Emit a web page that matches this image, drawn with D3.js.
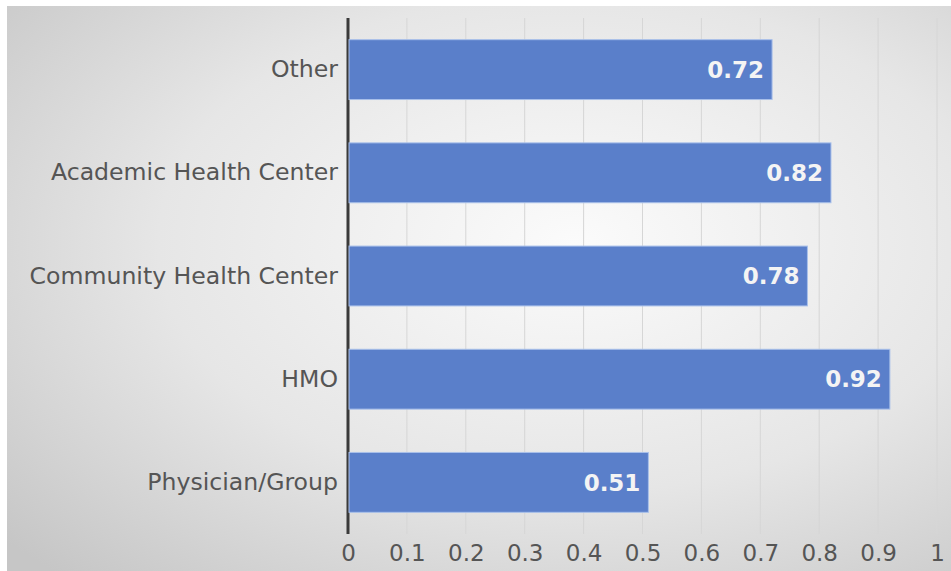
<!DOCTYPE html>
<html>
<head>
<meta charset="utf-8">
<script src="https://cdn.jsdelivr.net/npm/d3@7/dist/d3.min.js"></script>
<style>
  html, body { margin: 0; padding: 0; background: #ffffff; }
  svg { display: block; }
</style>
</head>
<body>
<script>
// Share of respondents by organisation type
const categories = ["Other", "Academic Health Center", "Community Health Center", "HMO", "Physician/Group"];
const values = [0.72, 0.82, 0.78, 0.92, 0.51];
const tickValues = [0, 0.1, 0.2, 0.3, 0.4, 0.5, 0.6, 0.7, 0.8, 0.9, 1];

const W = 951, H = 571;
const margin = { left: 348, right: 14, top: 18, bottom: 37 };

const svg = d3.select("body").append("svg")
  .attr("width", W).attr("height", H);

// Background: soft radial grey gradient
const defs = svg.append("defs");
const grad = defs.append("radialGradient")
  .attr("id", "bg")
  .attr("cx", 0.6).attr("cy", 0.42).attr("r", 0.8);
grad.append("stop").attr("offset", 0).attr("stop-color", "#fbfbfb");
grad.append("stop").attr("offset", 0.55).attr("stop-color", "#e6e6e6");
grad.append("stop").attr("offset", 1).attr("stop-color", "#c6c6c6");

svg.append("rect")
  .attr("x", 7).attr("y", 6)
  .attr("width", W - 7).attr("height", H - 6)
  .attr("fill", "url(#bg)");

const x = d3.scaleLinear()
  .domain([0, 1])
  .range([margin.left, W - margin.right - 0]);

const y = d3.scaleBand()
  .domain(categories)
  .range([margin.top, H - margin.bottom])
  .paddingInner(0.42)
  .paddingOuter(0.21);

// Vertical gridlines
svg.append("g")
  .selectAll("line")
  .data(tickValues.slice(1))
  .join("line")
  .attr("x1", d => x(d)).attr("x2", d => x(d))
  .attr("y1", margin.top).attr("y2", H - margin.bottom)
  .attr("stroke", "#d6d6d6")
  .attr("stroke-width", 1);

// Category axis line
svg.append("line")
  .attr("x1", x(0)).attr("x2", x(0))
  .attr("y1", margin.top).attr("y2", H - margin.bottom)
  .attr("stroke", "#3a3a3a")
  .attr("stroke-width", 3);

// Bars
svg.append("g")
  .selectAll("rect")
  .data(categories)
  .join("rect")
  .attr("x", x(0) + 1)
  .attr("y", d => y(d))
  .attr("width", (d, i) => x(values[i]) - x(0) - 1)
  .attr("height", y.bandwidth())
  .attr("fill", "#5a7fca")
  .attr("stroke", "#a9c0ea")
  .attr("stroke-width", 1);

// Value labels inside bar ends
svg.append("g")
  .selectAll("text")
  .data(categories)
  .join("text")
  .attr("x", (d, i) => x(values[i]) - 8)
  .attr("y", d => y(d) + y.bandwidth() / 2)
  .attr("dy", "0.36em")
  .attr("text-anchor", "end")
  .attr("font-family", "DejaVu Sans, Verdana, sans-serif")
  .attr("font-weight", "bold")
  .attr("font-size", 23)
  .attr("fill", "#f4f4f4")
  .text((d, i) => values[i].toFixed(2));

// Category labels
const yAxis = d3.axisLeft(y).tickSize(0).tickPadding(9);
const gy = svg.append("g")
  .attr("transform", `translate(${x(0) - 1},0)`)
  .call(yAxis);
gy.select(".domain").remove();
gy.selectAll("text")
  .attr("font-family", "DejaVu Sans, Verdana, sans-serif")
  .attr("font-size", 23.6)
  .attr("fill", "#555555");

// Value axis tick labels
const xAxis = d3.axisBottom(x)
  .tickValues(tickValues)
  .tickSize(0)
  .tickPadding(11)
  .tickFormat(d => d === 0 ? "0" : d === 1 ? "1" : d3.format(".1f")(d));
const gx = svg.append("g")
  .attr("transform", `translate(0,${H - margin.bottom})`)
  .call(xAxis);
gx.select(".domain").remove();
gx.selectAll("text")
  .attr("font-family", "DejaVu Sans, Verdana, sans-serif")
  .attr("font-size", 23)
  .attr("fill", "#555555");
</script>
</body>
</html>
